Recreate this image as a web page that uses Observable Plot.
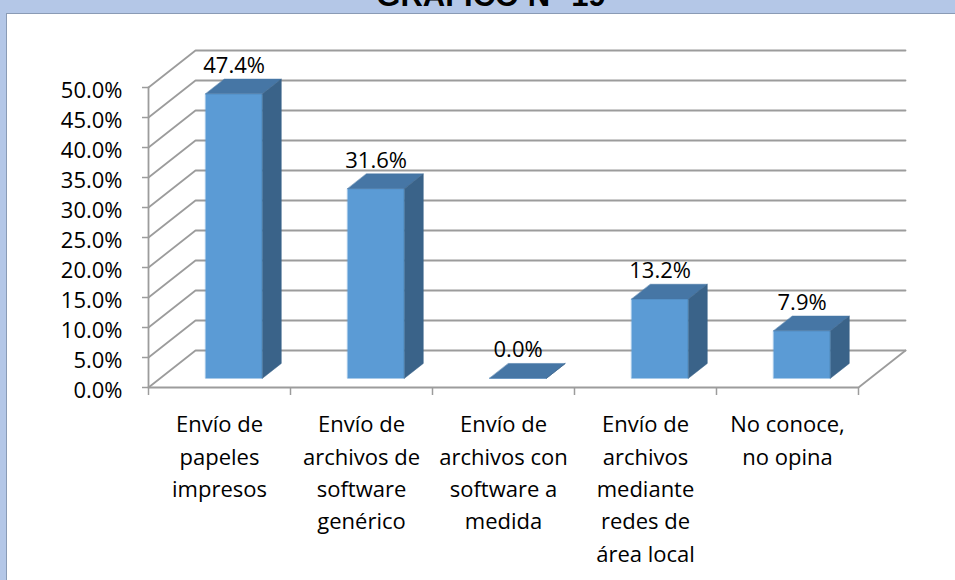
<!DOCTYPE html>
<html><head><meta charset="utf-8">
<script src="https://cdn.jsdelivr.net/npm/d3@7"></script>
<script src="https://cdn.jsdelivr.net/npm/@observablehq/plot@0.6"></script>
<style>
html,body{margin:0;padding:0;width:955px;height:580px;overflow:hidden;background:#B4C7E7;}
#panel{position:absolute;left:6px;top:13px;width:1000px;height:620px;background:#fff;border:1px solid #8A9BB5;}
#title{position:absolute;left:191px;width:600px;top:-19px;text-align:center;font:bold 31px/30px "Liberation Sans",Arial,sans-serif;color:#000;white-space:nowrap;}
#chart{position:absolute;left:0;top:0;}
</style></head><body>
<div id="panel"></div>
<div id="title">GRÁFICO N° 19</div>
<div id="chart"></div>
<script>
// ---- data ----
const categories = [
  "Envío de\npapeles\nimpresos",
  "Envío de\narchivos de\nsoftware\ngenérico",
  "Envío de\narchivos con\nsoftware a\nmedida",
  "Envío de\narchivos\nmediante\nredes de\nárea local",
  "No conoce,\nno opina"
];
const values = [47.4, 31.6, 0.0, 13.2, 7.9];
const yTicks = [0, 5, 10, 15, 20, 25, 30, 35, 40, 45, 50];
const xBoundaries = [0, 1, 2, 3, 4, 5];

// ---- 3D projection in data units (depth d in [0,1]) ----
const DX = 0.331, DY = 6.17;
const P = (x, y, d) => ({x: x + DX * d, y: y + DY * d});
const nCat = categories.length, yMax = 50;
const bx0 = 0.32, bx1 = 0.72, d0 = 0.25, d1 = 0.65;

// gridlines: left wall diagonal + back wall line per tick
const gridPts = [];
yTicks.forEach(v => {
  [P(0, v, 0), P(0, v, 1), P(nCat, v, 1)].forEach(p => gridPts.push({...p, g: "t" + v}));
});
[P(0, 0, 0), P(nCat, 0, 0), P(nCat, 0, 1)].forEach(p => gridPts.push({...p, g: "floor"}));
[P(0, 0, 0), P(0, yMax, 0)].forEach(p => gridPts.push({...p, g: "edge"}));

// bar faces
const frontFaces = [], topFaces = [], sideFaces = [];
values.forEach((v, i) => {
  const a = i + bx0, b = i + bx1;
  [P(a,0,d0), P(b,0,d0), P(b,v,d0), P(a,v,d0)].forEach(p => frontFaces.push({...p, f: i}));
  [P(a,v,d0), P(b,v,d0), P(b,v,d1), P(a,v,d1)].forEach(p => topFaces.push({...p, f: i}));
  [P(b,0,d0), P(b,0,d1), P(b,v,d1), P(b,v,d0)].forEach(p => sideFaces.push({...p, f: i}));
});

const FONT = '"Open Sans", sans-serif';
const FS = 22;
const chart = Plot.plot({
  width: 955, height: 580,
  marginLeft: 148, marginRight: 50, marginTop: 50, marginBottom: 193,
  x: {type: "linear", domain: [0, nCat + DX], axis: null},
  y: {type: "linear", domain: [0, yMax + DY], axis: null},
  style: {fontFamily: FONT, fontSize: FS + "px", background: "transparent", color: "#000"},
  marks: [
    Plot.line(gridPts, {x: "x", y: "y", z: "g", stroke: "#9C9C9C", strokeWidth: 1.8}),
    Plot.axisY({ticks: yTicks, tickSize: 6, tickPadding: 20, tickFormat: () => "",
      stroke: "#9C9C9C", strokeWidth: 1.5, label: null}),
    Plot.text(yTicks, {x: 0, y: d => d, dx: -26, dy: 3, textAnchor: "end",
      text: d => d.toFixed(1) + "%", fontSize: FS, fill: "#000"}),
    Plot.axisX({ticks: xBoundaries, tickSize: 8, tickFormat: () => "", stroke: "#9C9C9C", strokeWidth: 1.5, label: null}),
    Plot.line(frontFaces, {x: "x", y: "y", z: "f", fill: "#5B9BD5", stroke: "#5B9BD5", strokeWidth: 0.5, curve: "linear-closed"}),
    Plot.line(topFaces, {x: "x", y: "y", z: "f", fill: "#4676A5", stroke: "#4676A5", strokeWidth: 0.5, curve: "linear-closed"}),
    Plot.line(sideFaces, {x: "x", y: "y", z: "f", fill: "#3A6389", stroke: "#3A6389", strokeWidth: 0.5, curve: "linear-closed"}),
    Plot.text(values, {x: (d, i) => i + (bx0 + bx1) / 2 + DX * d0, y: d => d + DY * d0, dy: -28,
      text: d => d.toFixed(1) + "%", fontSize: FS, fill: "#000"}),
    Plot.text(categories, {x: (d, i) => i + 0.5, y: 0, dy: 22, text: d => d, lineAnchor: "top",
      lineHeight: 32.3 / FS, fontSize: FS, fill: "#000"})
  ]
});
document.getElementById("chart").appendChild(chart);
</script>
</body></html>
